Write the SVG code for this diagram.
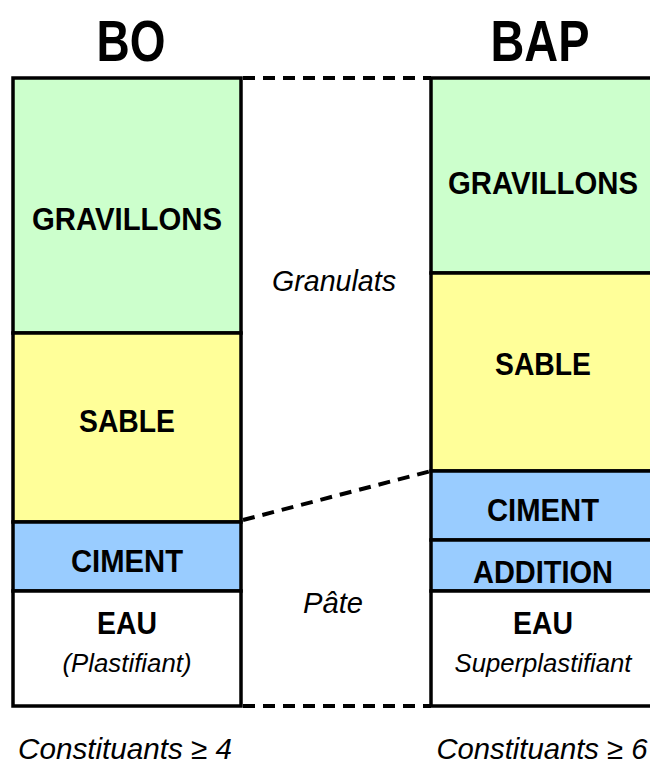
<svg xmlns="http://www.w3.org/2000/svg" width="650" height="765" viewBox="0 0 650 765">
<style>
.box{stroke:#000;stroke-width:3.5}
.g{fill:#CCFFCC}.s{fill:#FFFF99}.c{fill:#99CCFF}.w{fill:#FFFFFF}
.lbl{font-family:"Liberation Sans",Arial,sans-serif;font-weight:bold;font-size:32px;text-anchor:middle;fill:#000}
.it{font-family:"Liberation Sans",Arial,sans-serif;font-style:italic;text-anchor:middle;fill:#000}
.title{font-family:"Liberation Sans",Arial,sans-serif;font-weight:bold;font-size:58px;text-anchor:middle;fill:#000}
.dash{stroke:#000;stroke-width:4;stroke-dasharray:12 8;fill:none}
</style>
<rect width="650" height="765" fill="#fff"/>
<g id="titles">
<text class="title" x="131" y="61" textLength="69" lengthAdjust="spacingAndGlyphs">BO</text>
<text class="title" x="540" y="61" textLength="99" lengthAdjust="spacingAndGlyphs">BAP</text>
</g>
<g id="connectors">
<line class="dash" x1="243" y1="78" x2="431" y2="78"/>
<line class="dash" x1="243" y1="520" x2="431" y2="471"/>
<line class="dash" x1="243" y1="706" x2="431" y2="706"/>
</g>
<g id="bo">
<g id="bo-gravillons"><rect class="box g" x="13" y="78" width="228" height="255"/><text class="lbl" x="127" y="230" textLength="190" lengthAdjust="spacingAndGlyphs">GRAVILLONS</text></g>
<g id="bo-sable"><rect class="box s" x="13" y="333" width="228" height="189"/><text class="lbl" x="127" y="432" textLength="96" lengthAdjust="spacingAndGlyphs">SABLE</text></g>
<g id="bo-ciment"><rect class="box c" x="13" y="522" width="228" height="69"/><text class="lbl" x="127" y="572" textLength="112" lengthAdjust="spacingAndGlyphs">CIMENT</text></g>
<g id="bo-eau"><rect class="box w" x="13" y="591" width="228" height="115"/><text class="lbl" x="127" y="634" textLength="60" lengthAdjust="spacingAndGlyphs">EAU</text><text class="it" x="127" y="672" font-size="25" textLength="129" lengthAdjust="spacingAndGlyphs">(Plastifiant)</text></g>
</g>
<g id="bap">
<g id="bap-gravillons"><rect class="box g" x="431" y="78" width="230" height="195"/><text class="lbl" x="543" y="194" textLength="190" lengthAdjust="spacingAndGlyphs">GRAVILLONS</text></g>
<g id="bap-sable"><rect class="box s" x="431" y="273" width="230" height="198"/><text class="lbl" x="543" y="375" textLength="96" lengthAdjust="spacingAndGlyphs">SABLE</text></g>
<g id="bap-ciment"><rect class="box c" x="431" y="471" width="230" height="69"/><text class="lbl" x="543" y="521" textLength="112" lengthAdjust="spacingAndGlyphs">CIMENT</text></g>
<g id="bap-addition"><rect class="box c" x="431" y="540" width="230" height="51"/><text class="lbl" x="543" y="583" textLength="140" lengthAdjust="spacingAndGlyphs">ADDITION</text></g>
<g id="bap-eau"><rect class="box w" x="431" y="591" width="230" height="115"/><text class="lbl" x="543" y="634" textLength="60" lengthAdjust="spacingAndGlyphs">EAU</text><text class="it" x="543" y="672" font-size="25" textLength="177" lengthAdjust="spacingAndGlyphs">Superplastifiant</text></g>
</g>
<g id="labels">
<text class="it" x="334" y="291" font-size="29" textLength="124" lengthAdjust="spacingAndGlyphs">Granulats</text>
<text class="it" x="333" y="613" font-size="29" textLength="60" lengthAdjust="spacingAndGlyphs">Pâte</text>
<text class="it" x="125" y="759" font-size="30" textLength="214" lengthAdjust="spacingAndGlyphs">Constituants ≥ 4</text>
<text class="it" x="542" y="759" font-size="30" textLength="211" lengthAdjust="spacingAndGlyphs">Constituants ≥ 6</text>
</g>
</svg>
